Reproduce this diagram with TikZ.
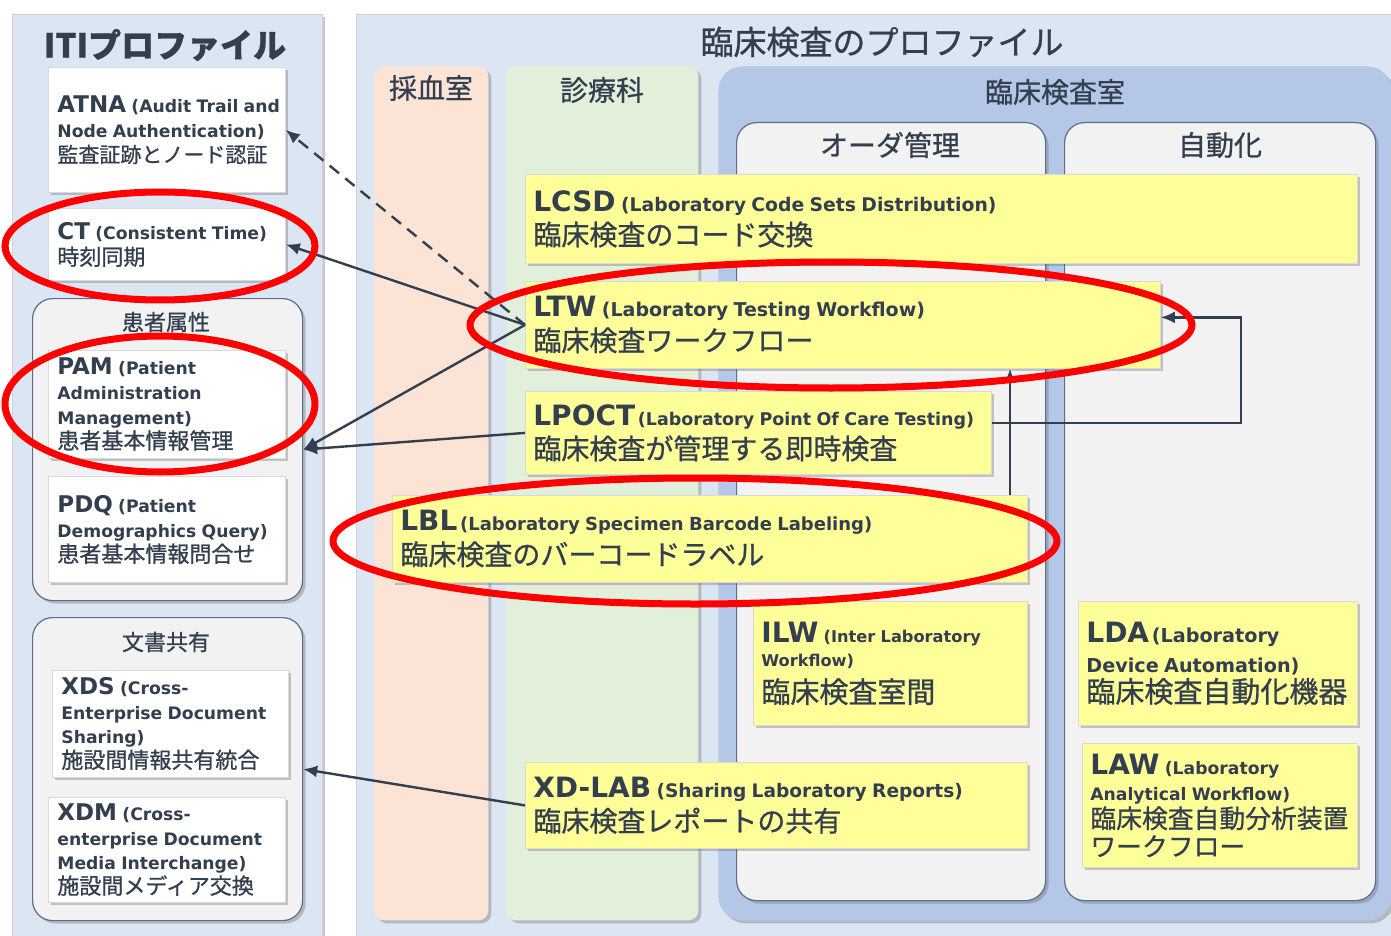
\documentclass[tikz,border=0pt]{standalone}
\usepackage{fontspec}
\setmainfont{Noto Sans CJK JP}[FakeBold=0.8]
\newfontfamily\lat{DejaVu Sans}
\usetikzlibrary{shadows,arrows.meta}
\definecolor{tc}{HTML}{333F4F}
\definecolor{panel}{HTML}{DCE6F2}
\definecolor{peach}{HTML}{FBE3D6}
\definecolor{mint}{HTML}{E2EFDA}
\definecolor{labblue}{HTML}{B4C7E7}
\definecolor{innerg}{HTML}{F2F2F2}
\definecolor{edge}{HTML}{5B6E8A}
\definecolor{ylw}{HTML}{FFFF99}
\definecolor{ringred}{HTML}{FF0000}
\newcommand\La[2]{{\lat\bfseries\fontsize{#1}{#1}\selectfont #2}}
\newcommand\Jp[2]{{\fontsize{#1}{#1}\selectfont #2}}
\tikzset{
 shd/.style={drop shadow={shadow xshift=1.5pt,shadow yshift=-1.5pt,opacity=.35,fill=black!60}},
 panelbox/.style={anchor=north west, fill=panel, draw=black!18, shd, inner sep=0pt},
 colbox/.style={anchor=north west, rounded corners=5pt, shd, inner sep=0pt},
 grp/.style={anchor=north west, rounded corners=10pt, fill=innerg, draw=edge, line width=0.6pt, shd, inner sep=0pt},
 wbox/.style={anchor=north west, fill=white, draw=black!15, shd, align=left, inner xsep=4.5pt, inner ysep=0pt, text=tc, text width=109.5pt},
 ybox/.style={anchor=north west, fill=ylw, draw=black!15, shd, align=left, inner xsep=4pt, inner ysep=0pt, text=tc},
 ttl/.style={text=tc, inner sep=0pt},
 arr/.style={draw=tc, line width=1.2pt, -{Latex[length=7pt,width=6pt]}},
 ring/.style={draw=ringred, line width=3.5pt},
}
\begin{document}
\begin{tikzpicture}[x=0.5pt,y=-0.5pt]
\useasboundingbox (0,0) rectangle (1391,936);
\fill[white] (0,0) rectangle (1391,936);
% panels
\node[panelbox, minimum width=155pt, minimum height=461pt] (iti) at (12,14) {};
\node[panelbox, minimum width=517.5pt, minimum height=461pt] (labp) at (356,14) {};
\node[ttl, font=\bfseries\fontsize{16.5}{16.5}\selectfont] (titi) at (165,45) {ITIプロファイル};
\node[ttl, font=\fontsize{16.5}{16.5}\selectfont] (tlab) at (882,42) {臨床検査のプロファイル};
% columns
\node[colbox, fill=peach, minimum width=57pt, minimum height=427pt] (c1) at (374,66) {};
\node[ttl, font=\fontsize{14}{14}\selectfont] (tc1) at (431,88) {採血室};
\node[colbox, fill=mint, minimum width=96pt, minimum height=427pt] (c2) at (506,66) {};
\node[ttl, font=\fontsize{14}{14}\selectfont] (tc2) at (602,90) {診療科};
\node[colbox, fill=labblue, rounded corners=12pt, minimum width=336.5pt, minimum height=427pt] (c3) at (718,66) {};
\node[ttl, font=\fontsize{14}{14}\selectfont] (tc3) at (1055,92) {臨床検査室};
\node[grp, minimum width=154.5pt, minimum height=389pt] (ord) at (736,122) {};
\node[ttl, font=\fontsize{14}{14}\selectfont] (tord) at (890,145) {オーダ管理};
\node[grp, minimum width=155.5pt, minimum height=389pt] (auto) at (1064,122) {};
\node[ttl, font=\fontsize{14}{14}\selectfont] (tauto) at (1220,145) {自動化};
% ITI groups
\node[grp, minimum width=135pt, minimum height=151pt] (pat) at (32,298) {};
\node[ttl, font=\fontsize{11}{11}\selectfont] (tpat) at (166,322) {患者属性};
\node[grp, minimum width=135pt, minimum height=151.5pt] (doc) at (32,617) {};
\node[ttl, font=\fontsize{11}{11}\selectfont] (tdoc) at (166,642) {文書共有};
% white boxes
\node[wbox, minimum height=62.5pt, font=\fontsize{8}{12.5}\selectfont] (atna) at (48,67)
 {\mbox{\La{11.5}{ATNA} \La{8.6}{(Audit Trail and}}\\\La{8.6}{Node Authentication)}\\\Jp{10.5}{監査証跡とノード認証}};
\node[wbox, minimum height=36pt, font=\fontsize{8}{13}\selectfont] (ct) at (48,208)
 {\La{11.5}{CT} \La{8.6}{(Consistent Time)}\\\Jp{11}{時刻同期}};
\node[wbox, minimum height=54pt, font=\fontsize{8}{12.3}\selectfont] (pam) at (48,350)
 {\La{11.5}{PAM} \La{8.6}{(Patient}\\\La{8.6}{Administration}\\\La{8.6}{Management)}\\\Jp{11}{患者基本情報管理}};
\node[wbox, minimum height=53pt, font=\fontsize{8}{12.5}\selectfont] (pdq) at (48,476)
 {\La{11.5}{PDQ} \La{8.6}{(Patient}\\\La{8.6}{Demographics Query)}\\\Jp{11}{患者基本情報問合せ}};
\node[wbox, text width=109pt, minimum height=53.5pt, font=\fontsize{8}{12.2}\selectfont] (xds) at (52,670)
 {\La{11.5}{XDS} \La{8.6}{(Cross-}\\\La{8.6}{Enterprise Document}\\\La{8.6}{Sharing)}\\\Jp{11}{施設間情報共有統合}};
\node[wbox, minimum height=52.5pt, font=\fontsize{8}{12.2}\selectfont] (xdm) at (48,797)
 {\La{11.5}{XDM} \La{8.6}{(Cross-}\\\La{8.6}{enterprise Document}\\\La{8.6}{Media Interchange)}\\\Jp{11}{施設間メディア交換}};
% yellow boxes
\node[ybox, text width=408pt, minimum height=44.5pt, font=\fontsize{8}{17}\selectfont] (lcsd) at (525,174)
 {\La{14}{LCSD} \La{9.4}{(Laboratory Code Sets Distribution)}\\\Jp{14}{臨床検査のコード交換}};
\node[ybox, text width=309.5pt, minimum height=43.5pt, font=\fontsize{8}{17}\selectfont] (ltw) at (525,281)
 {\La{14}{LTW} \La{9.5}{(Laboratory Testing Workflow)}\\\Jp{14}{臨床検査ワークフロー}};
\node[ybox, text width=225pt, minimum height=41.5pt, font=\fontsize{8}{17}\selectfont] (lpoct) at (525,391)
 {\mbox{\La{14}{LPOCT}\,\La{8.75}{(Laboratory Point Of Care Testing)}}\\\Jp{14}{臨床検査が管理する即時検査}};
\node[ybox, text width=309.5pt, minimum height=43.5pt, font=\fontsize{8}{17}\selectfont] (lbl) at (392,495)
 {\La{14}{LBL}\,\La{9}{(Laboratory Specimen Barcode Labeling)}\\\Jp{14}{臨床検査のバーコードラベル}};
\node[ybox, text width=129pt, minimum height=62pt, font=\fontsize{8}{12}\selectfont] (ilw) at (753,601)
 {\La{14}{ILW} \La{8.1}{(Inter Laboratory}\\\La{8.1}{Workflow)}\\[4pt]\Jp{14.5}{臨床検査室間}};
\node[ybox, text width=243pt, minimum height=43pt, font=\fontsize{8}{17}\selectfont] (xdlab) at (525,762)
 {\La{14}{XD-LAB} \La{9.3}{(Sharing Laboratory Reports)}\\\Jp{14}{臨床検査レポートの共有}};
\node[ybox, text width=131.5pt, minimum height=62pt, font=\fontsize{8}{15}\selectfont] (lda) at (1078,601)
 {\La{14}{LDA}\,\La{9.6}{(Laboratory}\\\La{9.6}{Device Automation)}\\\Jp{14.5}{臨床検査自動化機器}};
\node[ybox, text width=129.5pt, minimum height=62pt, font=\fontsize{8}{13}\selectfont] (law) at (1082,743)
 {\La{14}{LAW} \La{8.6}{(Laboratory}\\\La{8.6}{Analytical Workflow)}\\[1pt]\Jp{12.9}{臨床検査自動分析装置}\\[1pt]\Jp{12.9}{ワークフロー}};
% connectors
\draw[arr, dashed, dash pattern=on 6pt off 4pt] (ltw.west) -- (atna.east);
\draw[arr] (ltw.west) -- (ct.east);
\draw[arr] (ltw.west) -- (pat.east);
\draw[arr] (lpoct.west) -- (pat.east);
\draw[arr] (xdlab.west) -- (doc.east);
\draw[arr] (1010,0 |- lbl.north) -- (1010,0 |- ltw.south);
\draw[arr] ([yshift=5pt]lpoct.east) -| ([xshift=40pt,yshift=3.75pt]ltw.east) -- ([yshift=3.75pt]ltw.east);
% red annotation rings
\draw[ring] (160,246) ellipse [x radius=155, y radius=54];
\draw[ring] (160,404) ellipse [x radius=155, y radius=68];
\draw[ring] (831,325) ellipse [x radius=361, y radius=63];
\draw[ring] (695,541) ellipse [x radius=362, y radius=63];
\end{tikzpicture}
\end{document}
